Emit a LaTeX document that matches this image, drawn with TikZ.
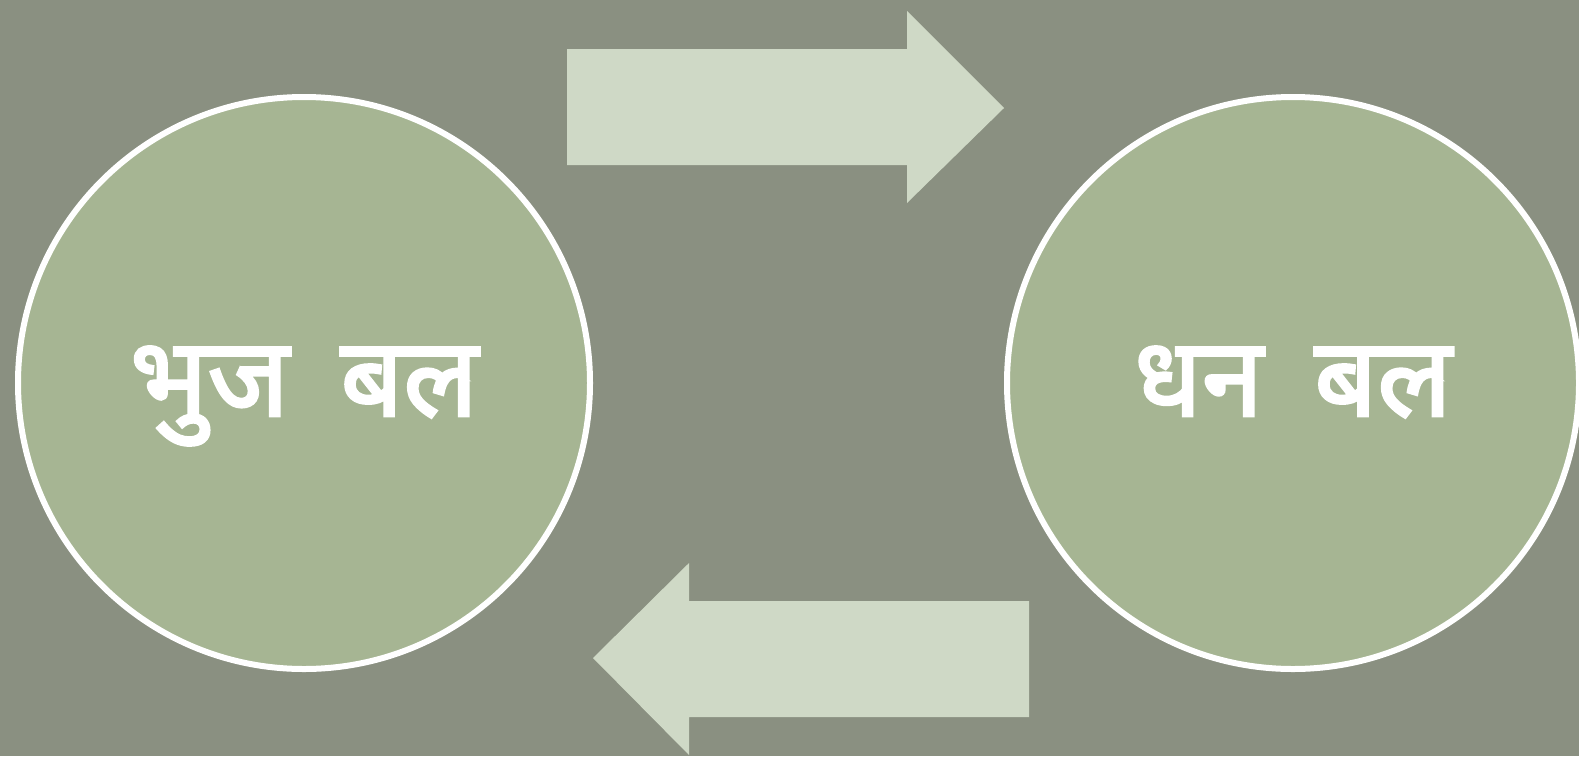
\documentclass[tikz,border=0pt]{standalone}
\usepackage{fontspec}
\newfontfamily\devfont[Script=Devanagari, FakeBold=2.5, WordSpace=1.8]{Noto Sans}
\definecolor{bgcol}{HTML}{8A9081}
\definecolor{circfill}{HTML}{A6B593}
\definecolor{arrowfill}{HTML}{CFD9C6}
\tikzset{
  bal/.style={circle, fill=circfill, draw=white, line width=6pt, minimum size=572pt, inner sep=0pt,
    text=white, text height=66pt, text depth=0pt,
    font=\devfont\fontsize{110}{124}\selectfont},
  blockarrow/.style={fill=arrowfill, draw=none}
}
\begin{document}
\begin{tikzpicture}[x=1pt,y=-1pt]
\fill[bgcol] (0,0) rectangle (1579,756);
\useasboundingbox (0,0) rectangle (1579,756);
\node[bal] (bhuj) at (304,383) {भुज बल};
\node[bal] (dhan) at (1293,383) {धन बल};
\fill[blockarrow] (567,49) -- (907,49) -- (907,11) -- (1004,108) -- (907,203) -- (907,165) -- (567,165) -- cycle;
\fill[blockarrow] (1029,601) -- (689,601) -- (689,563) -- (593,658) -- (689,755) -- (689,717) -- (1029,717) -- cycle;
\end{tikzpicture}
\end{document}
